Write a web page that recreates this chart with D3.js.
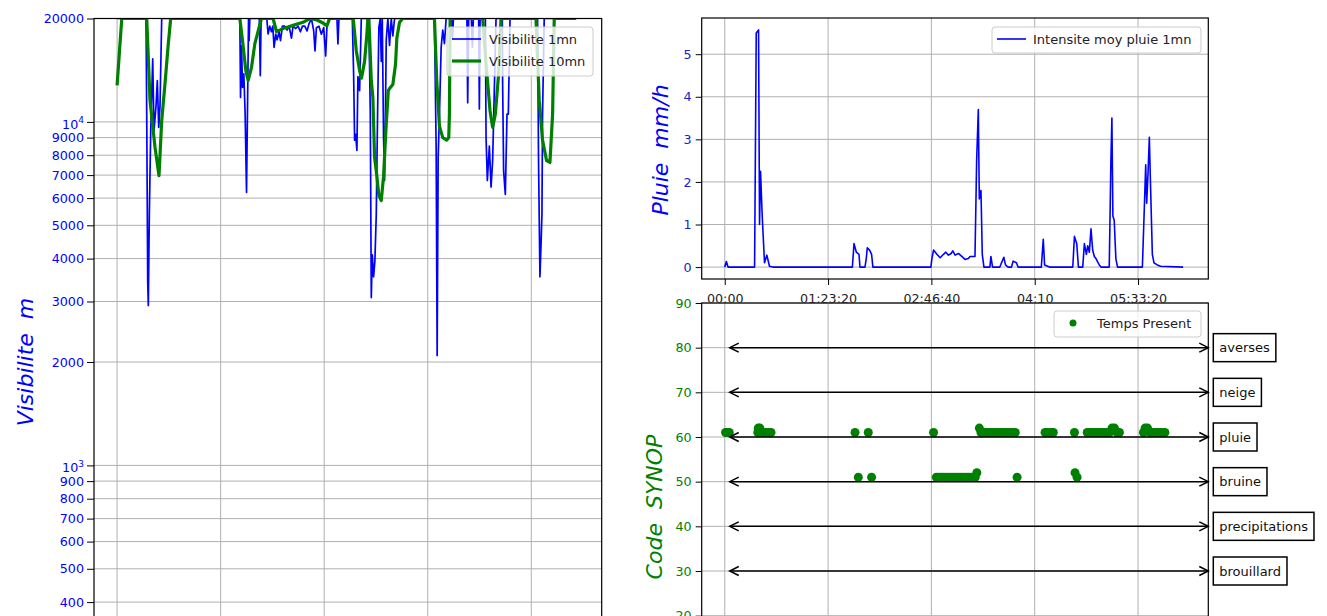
<!DOCTYPE html>
<html>
<head>
<meta charset="utf-8">
<script src="https://cdn.jsdelivr.net/npm/d3@7"></script>
<style>
    body { margin: 0; background: #fff; }
    svg { display: block; }
    text { font-family: "DejaVu Sans", sans-serif; }
</style>
</head>
<body>
<svg id="fig" width="1327" height="616"></svg>
<script>
// ---- data (time in seconds since 00:00) ----
const timeTicks = [0, 5000, 10000, 15000, 20000];
const timeTickLabels = ["00:00", "01:23:20", "02:46:40", "04:10", "05:33:20"];
const timeDomain = [-1115, 23400];

const visTicks = [400, 500, 600, 700, 800, 900, 1000, 2000, 3000, 4000, 5000, 6000, 7000, 8000, 9000, 10000, 20000];
const pluieTicks = [0, 1, 2, 3, 4, 5];
const synopTicks = [20, 30, 40, 50, 60, 70, 80, 90];

const synopLevels = [80, 70, 60, 50, 40, 30];
const synopNames = ["averses", "neige", "pluie", "bruine", "precipitations", "brouillard"];

// Visibilite 1mn [t, m]
const vis1mn = [
    [0, 20000], [1398, 20000], [1431, 10530], [1479, 3420], [1508, 2920], [1557, 5380], [1624, 9420], [1720, 15250],
    [1783, 9420], [1879, 11110], [1942, 13200], [2010, 9640], [2072, 11110], [2154, 20000],
    [5927, 20000], [5961, 11780], [6009, 16650], [6057, 12600], [6120, 13790], [6183, 10530], [6250, 6230], [6313, 13200],
    [6347, 20000], [6375, 17230], [6409, 20000],
    [6867, 20000], [6915, 13630], [6954, 20000],
    [7229, 20000], [7291, 18030], [7373, 19000], [7455, 18300], [7518, 19000], [7580, 16480], [7662, 18000], [7725, 17340],
    [7821, 18300], [7889, 17230], [7985, 19000], [8096, 19000], [8207, 18500], [8303, 19000], [8419, 17530], [8496, 19000],
    [8626, 18700], [8737, 19000], [8853, 18300], [8949, 19000], [9060, 19000], [9171, 18400], [9267, 19300], [9383, 20000],
    [9494, 18400], [9557, 16090], [9624, 18800], [9749, 19000], [9865, 18000], [9975, 18800], [10072, 15550], [10134, 19000],
    [10231, 20000],
    [10616, 20000], [10664, 16870], [10713, 20000],
    [11358, 20000], [11421, 13790], [11469, 8850], [11517, 9200], [11580, 8260], [11628, 13540], [11710, 12330], [11792, 20000],
    [12158, 20000], [12226, 10530], [12274, 3080], [12322, 4100], [12385, 3540], [12448, 3940], [12515, 5380], [12578, 10530],
    [12640, 18850], [12708, 20000], [12756, 15000], [12804, 20000], [12867, 9000], [12915, 6750], [12949, 9500], [12997, 17340],
    [13074, 20000], [13156, 16700], [13238, 20000], [13315, 17800], [13397, 20000],
    [15324, 20000], [15406, 8430], [15455, 2090], [15503, 7880], [15566, 10530], [15648, 16480], [15725, 18500], [15806, 16900],
    [15888, 20000],
    [16143, 20000], [16192, 17500], [16240, 20000],
    [16891, 20000], [16929, 11370], [16977, 20000],
    [17107, 20000], [17155, 16500], [17203, 20000],
    [17459, 20000], [17493, 10910], [17527, 20000],
    [17782, 20000], [17816, 9000], [17878, 6750], [17975, 8500], [18057, 6460], [18134, 7720], [18216, 12500], [18298, 20000],
    [18601, 20000], [18616, 13000], [18664, 7200], [18746, 6150], [18828, 10530], [18891, 10530], [18973, 20000],
    [20303, 20000], [20351, 7640], [20418, 3540], [20466, 4320], [20515, 5380], [20544, 10530], [20625, 20000],
    [22167, 20000]
];

// Visibilite 10mn [t, m]
const vis10mn = [
    [0, 12770], [226, 20000], [1431, 20000], [1590, 11550], [1831, 8430], [2024, 6970], [2154, 10090], [2313, 12900],
    [2472, 16870], [2588, 20000],
    [5927, 20000], [6057, 17230], [6216, 14110], [6327, 13200], [6491, 14420], [6650, 16870], [6857, 18850], [6973, 20000],
    [7532, 20000], [7696, 18330], [7855, 18500], [8014, 18700], [8255, 18900], [8496, 19100], [8737, 19300], [8978, 19500],
    [9301, 20000], [9653, 19800], [9942, 19400], [10134, 19060], [10264, 20000],
    [11402, 20000], [11551, 16090], [11710, 14110], [11800, 13400], [11951, 15000], [12062, 18000], [12110, 20000],
    [12158, 20000], [12274, 13200], [12351, 11780], [12433, 7880], [12515, 7200], [12640, 6100], [12756, 5900], [12867, 6950],
    [12981, 9500], [13096, 12330], [13156, 12500], [13315, 12850], [13445, 14720], [13508, 17530], [13638, 19500], [13797, 20000],
    [15324, 20000], [15435, 13200], [15566, 9720], [15725, 9000], [15918, 8850], [16014, 9000], [16047, 10530], [16081, 20000],
    [17652, 20000], [17816, 14720], [18009, 10760], [18134, 9640], [18264, 10530], [18423, 13790], [18539, 20000],
    [20226, 20000], [20385, 11550], [20544, 8850], [20737, 7720], [20901, 7620], [21029, 10530], [21108, 20000],
    [22167, 20000]
];

// Intensite moy pluie 1mn [t, mm/h]
const pluie = [
    [0, 0], [80, 0.13], [160, 0], [1444, 0], [1524, 5.5], [1636, 5.57], [1684, 1.0], [1732, 2.25], [1813, 1.2], [1925, 0.1],
    [2037, 0.28], [2165, 0.02], [2325, 0],
    [6176, 0], [6256, 0.55], [6368, 0.35], [6496, 0.3], [6544, 0], [6785, 0], [6849, 0.2], [6897, 0.45], [7010, 0.4],
    [7106, 0.3], [7170, 0],
    [9977, 0], [10025, 0.2], [10105, 0.4], [10266, 0.3], [10426, 0.22], [10586, 0.3], [10699, 0.35], [10827, 0.28],
    [10956, 0.32], [11036, 0.38], [11148, 0.28], [11308, 0.32], [11469, 0.25], [11629, 0.18], [11789, 0.2], [11870, 0.25],
    [12110, 0.25], [12190, 2.5], [12271, 3.7], [12319, 1.6], [12399, 1.8], [12463, 0.3], [12543, 0],
    [12832, 0], [12880, 0.25], [12960, 0], [13313, 0], [13393, 0.1], [13506, 0.23], [13586, 0.05], [13714, 0], [13875, 0],
    [13955, 0.14], [14115, 0.1], [14195, 0],
    [15319, 0], [15414, 0.65], [15478, 0.05], [15719, 0],
    [16842, 0], [16922, 0.72], [17034, 0.55], [17115, 0], [17323, 0], [17404, 0.55], [17500, 0.3], [17564, 0.5],
    [17644, 0.35], [17724, 0.9], [17804, 0.4], [17885, 0.25], [17965, 0.2], [18045, 0.12], [18125, 0.05], [18205, 0],
    [18606, 0], [18687, 2.5], [18735, 3.5], [18783, 1.2], [18847, 1.1], [18927, 0.2], [19007, 0],
    [20210, 0], [20291, 1.2], [20371, 2.4], [20419, 1.5], [20483, 2.2], [20547, 3.05], [20611, 1.8], [20692, 0.3],
    [20772, 0.1], [20932, 0.05], [21093, 0.02], [22183, 0]
];

// Temps Present, code SYNOP [t, code]
const synop = [
    [40, 61], [100, 61], [160, 61], [220, 61],
    [1600, 61], [1620, 62], [1700, 62], [1760, 61], [1880, 61], [2000, 61], [2120, 61], [2240, 61],
    [6304, 61], [6945, 61], [6464, 51], [7106, 51],
    [10105, 61],
    [10240, 51], [10360, 51], [10480, 51], [10600, 51], [10720, 51], [10840, 51], [10960, 51], [11080, 51], [11200, 51],
    [11320, 51], [11440, 51], [11560, 51], [11680, 51], [11800, 51], [11920, 51], [12040, 51], [12120, 51], [12200, 52],
    [12320, 62], [12400, 61], [12520, 61], [12640, 61], [12760, 61], [12880, 61], [13000, 61], [13120, 61], [13240, 61],
    [13360, 61], [13480, 61], [13600, 61], [13720, 61], [13840, 61], [13960, 61], [14060, 61],
    [14147, 51],
    [15500, 61], [15620, 61], [15740, 61], [15860, 61], [15900, 61],
    [16923, 61], [16950, 52], [17050, 51],
    [17540, 61], [17660, 61], [17780, 61], [17900, 61], [18020, 61], [18140, 61], [18260, 61], [18380, 61], [18500, 61],
    [18620, 61], [18740, 62], [18860, 62], [18980, 61], [19100, 61],
    [20260, 61], [20340, 62], [20460, 62], [20580, 61], [20700, 61], [20820, 61], [20940, 61], [21060, 61], [21180, 61],
    [21300, 61]
];

// ---- layout ----
const svg = d3.select("#fig");
const FONT = "DejaVu Sans, sans-serif";
const TICK_FS = "12.7px";
const GRID = "#b0b0b0";

const L = { x0: 94, x1: 601.7, y0: 18.5, y1: 705.5 };
const RT = { x0: 701.7, x1: 1208.3, y0: 18, y1: 279 };
const RB = { x0: 701.7, x1: 1208.3, y0: 303, y1: 705 };

const xL = d3.scaleLinear().domain(timeDomain).range([L.x0, L.x1]);
const xR = d3.scaleLinear().domain(timeDomain).range([RT.x0, RT.x1]);
const yVis = d3.scaleLog().domain([200, 20000]).range([L.y1, L.y0]);
const yPluie = d3.scaleLinear().domain([-0.28, 5.85]).range([RT.y1, RT.y0]);
const ySyn = d3.scaleLinear().domain([0, 90]).range([RB.y1, RB.y0]);

const defs = svg.append("defs");

function clipFor(id, box) {
    defs.append("clipPath").attr("id", id)
        .append("rect")
        .attr("x", box.x0).attr("y", box.y0)
        .attr("width", box.x1 - box.x0).attr("height", box.y1 - box.y0);
    return `url(#${id})`;
}

function styleAxis(g, color) {
    g.attr("font-family", FONT).attr("font-size", TICK_FS);
    g.select(".domain").remove();
    g.selectAll(".tick line").attr("stroke", "#000").attr("stroke-width", 1);
    g.selectAll(".tick text").attr("fill", color);
}

function grid(box, x, xs, y, ys) {
    const g = svg.append("g");
    g.selectAll(".gx").data(xs).enter().append("line")
        .attr("x1", d => x(d)).attr("x2", d => x(d))
        .attr("y1", box.y0).attr("y2", box.y1)
        .attr("stroke", GRID).attr("stroke-width", 1);
    g.selectAll(".gy").data(ys).enter().append("line")
        .attr("x1", box.x0).attr("x2", box.x1)
        .attr("y1", d => y(d)).attr("y2", d => y(d))
        .attr("stroke", GRID).attr("stroke-width", 1);
}

function frame(box) {
    svg.append("rect")
        .attr("x", box.x0).attr("y", box.y0)
        .attr("width", box.x1 - box.x0).attr("height", box.y1 - box.y0)
        .attr("fill", "none").attr("stroke", "#000").attr("stroke-width", 1.2);
}

function yLabel(txt, x, y, color) {
    svg.append("text")
        .attr("transform", `translate(${x},${y}) rotate(-90)`)
        .attr("text-anchor", "middle")
        .attr("font-size", "22px")
        .attr("font-style", "italic")
        .attr("fill", color)
        .style("white-space", "pre")
        .text(txt);
}

function legend(x, y, w, h, items) {
    const g = svg.append("g");
    g.append("rect")
        .attr("x", x).attr("y", y).attr("width", w).attr("height", h)
        .attr("rx", 3)
        .attr("fill", "#fff").attr("fill-opacity", 0.8)
        .attr("stroke", "#cccccc").attr("stroke-width", 1);
    items.forEach((it, i) => {
        const cy = y + 12 + i * 22;
        if (it.dot) {
            g.append("circle").attr("cx", x + 19).attr("cy", cy).attr("r", 3.5).attr("fill", it.color);
        } else {
            g.append("line")
                .attr("x1", x + 5).attr("x2", x + 34)
                .attr("y1", cy).attr("y2", cy)
                .attr("stroke", it.color).attr("stroke-width", it.width);
        }
        g.append("text")
            .attr("x", x + it.tx).attr("y", cy)
            .attr("dominant-baseline", "central")
            .attr("font-size", "13px")
            .attr("fill", "#222")
            .text(it.label);
    });
}

// ==========================
// Visibilite (log)
// ==========================
function drawVisibilite() {
    grid(L, xL, timeTicks, yVis, visTicks);

    const clip = clipFor("clipL", L);
    const line = d3.line().x(d => xL(d[0])).y(d => yVis(d[1]));

    svg.append("path").datum(vis1mn)
        .attr("clip-path", clip)
        .attr("fill", "none").attr("stroke", "#0000ff").attr("stroke-width", 1.7)
        .attr("stroke-linejoin", "round")
        .attr("d", line);

    svg.append("path").datum(vis10mn)
        .attr("clip-path", clip)
        .attr("fill", "none").attr("stroke", "#008000").attr("stroke-width", 3.2)
        .attr("stroke-linejoin", "round")
        .attr("d", line);

    const ay = svg.append("g")
        .attr("transform", `translate(${L.x0},0)`)
        .call(d3.axisLeft(yVis).tickValues(visTicks).tickSize(7).tickPadding(3)
            .tickFormat(d => (d === 1000 || d === 10000) ? "10" : String(d)));
    styleAxis(ay, "#0000ff");
    ay.selectAll(".tick text")
        .filter(d => d === 1000 || d === 10000)
        .attr("dy", "0.5em")
        .append("tspan")
        .attr("dy", "-0.6em")
        .attr("font-size", "9px")
        .text(d => Math.round(Math.log10(d)));

    // bottom axis lies below the visible window: ticks only
    const ax = svg.append("g")
        .attr("transform", `translate(0,${L.y1})`)
        .call(d3.axisBottom(xL).tickValues(timeTicks).tickSize(6).tickFormat(""));
    styleAxis(ax, "#222");

    frame(L);
    yLabel("Visibilite  m", 33, 362, "#0000ff");

    legend(447, 27, 146, 49, [
        { label: "Visibilite 1mn", color: "#0000ff", width: 1.7, tx: 42 },
        { label: "Visibilite 10mn", color: "#008000", width: 3.2, tx: 42 }
    ]);
}

// ==========================
// Pluie
// ==========================
function drawPluie() {
    grid(RT, xR, timeTicks, yPluie, pluieTicks);

    svg.append("path").datum(pluie)
        .attr("clip-path", clipFor("clipRT", RT))
        .attr("fill", "none").attr("stroke", "#0000ff").attr("stroke-width", 1.6)
        .attr("stroke-linejoin", "round")
        .attr("d", d3.line().x(d => xR(d[0])).y(d => yPluie(d[1])));

    const ay = svg.append("g")
        .attr("transform", `translate(${RT.x0},0)`)
        .call(d3.axisLeft(yPluie).tickValues(pluieTicks).tickSize(6).tickPadding(4)
            .tickFormat(d3.format("d")));
    styleAxis(ay, "#2020c8");

    const ax = svg.append("g")
        .attr("transform", `translate(0,${RT.y1})`)
        .call(d3.axisBottom(xR).tickValues(timeTicks).tickSize(6).tickPadding(9)
            .tickFormat((d, i) => timeTickLabels[i]));
    styleAxis(ax, "#222");

    frame(RT);
    yLabel("Pluie  mm/h", 668, 150, "#0000ff");

    legend(992, 27, 209, 26, [
        { label: "Intensite moy pluie 1mn", color: "#0000ff", width: 1.6, tx: 41 }
    ]);
}

// ==========================
// Code SYNOP
// ==========================
function drawSynop() {
    svg.append("rect")
        .attr("x", RB.x0).attr("y", RB.y0)
        .attr("width", RB.x1 - RB.x0).attr("height", RB.y1 - RB.y0)
        .attr("fill", "#fff");

    grid(RB, xR, timeTicks, ySyn, synopTicks);

    svg.append("g")
        .attr("clip-path", clipFor("clipRB", RB))
        .selectAll("circle")
        .data(synop)
        .enter()
        .append("circle")
        .attr("cx", d => xR(d[0]))
        .attr("cy", d => ySyn(d[1]))
        .attr("r", 4.5)
        .attr("fill", "#008000");

    defs.append("marker")
        .attr("id", "chev")
        .attr("viewBox", "-12 -7 14 14")
        .attr("refX", 0).attr("refY", 0)
        .attr("markerWidth", 14).attr("markerHeight", 14)
        .attr("markerUnits", "userSpaceOnUse")
        .attr("orient", "auto-start-reverse")
        .append("path")
        .attr("d", "M-9,-4.5L0,0L-9,4.5")
        .attr("fill", "none").attr("stroke", "#000").attr("stroke-width", 1.5);

    const ann = svg.append("g");
    ann.selectAll("line")
        .data(synopLevels)
        .enter()
        .append("line")
        .attr("x1", xR(0) + 5).attr("x2", RB.x1)
        .attr("y1", d => ySyn(d)).attr("y2", d => ySyn(d))
        .attr("stroke", "#000").attr("stroke-width", 1.5)
        .attr("marker-start", "url(#chev)")
        .attr("marker-end", "url(#chev)");

    synopLevels.forEach((lvl, i) => {
        const g = ann.append("g");
        const box = g.append("rect");
        const t = g.append("text")
            .attr("x", RB.x1 + 11).attr("y", ySyn(lvl))
            .attr("dominant-baseline", "central")
            .attr("font-size", "13px")
            .attr("fill", "#111")
            .text(synopNames[i]);
        const w = t.node().getComputedTextLength();
        box.attr("x", RB.x1 + 5).attr("y", ySyn(lvl) - 14)
            .attr("width", w + 12).attr("height", 28)
            .attr("fill", "#fff").attr("stroke", "#000").attr("stroke-width", 1.5);
    });

    const ay = svg.append("g")
        .attr("transform", `translate(${RB.x0},0)`)
        .call(d3.axisLeft(ySyn).tickValues(synopTicks).tickSize(6).tickPadding(4));
    styleAxis(ay, "#008000");

    frame(RB);
    yLabel("Code  SYNOP", 662, 507, "#008000");

    legend(1054, 311, 147, 26, [
        { label: "Temps Present", dot: true, color: "#008000", tx: 43 }
    ]);
}

drawVisibilite();
drawPluie();
drawSynop();
</script>
</body>
</html>
